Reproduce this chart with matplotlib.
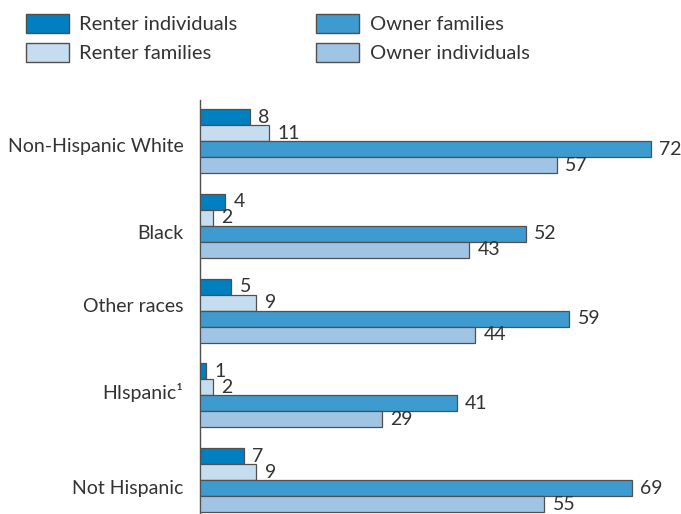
import matplotlib
matplotlib.use("Agg")
import matplotlib.pyplot as plt
from matplotlib.patches import Patch

plt.rcParams['font.family'] = ['Lato', 'DejaVu Sans']

categories = ["Non-Hispanic White", "Black", "Other races", "HIspanic\u00b9", "Not Hispanic"]
series = ["Renter individuals", "Renter families", "Owner families", "Owner individuals"]
renter_individuals = [8, 4, 5, 1, 7]
renter_families = [11, 2, 9, 2, 9]
owner_families = [72, 52, 59, 41, 69]
owner_individuals = [57, 43, 44, 29, 55]
colors = ["#0080c0", "#c6dcef", "#3d9bd0", "#a0c4e4"]

values = [renter_individuals, renter_families, owner_families, owner_individuals]
fs = 14
txt = "#333333"
# category labels in the original are not exactly centred on their groups
label_shift = [0.22, 0.38, -0.34, -0.25, 0.44]

fig = plt.figure(figsize=(6.81, 5.14), dpi=100)
ax = fig.add_axes([200 / 681, 0, 481 / 681, 414 / 514])

group_step = 5.3
for k, (vals, col) in enumerate(zip(values, colors)):
    ys = [g * group_step + k + 0.5 for g in range(len(categories))]
    ax.barh(ys, vals, height=1.0, color=col, edgecolor="#505050", linewidth=0.9, zorder=3)
    for y, v in zip(ys, vals):
        ax.annotate(str(v), (v, y), xytext=(6, 0), textcoords="offset points",
                    ha="left", va="center", fontsize=fs, color=txt)

ax.set_xlim(0, 481 / 6.26)
ax.set_ylim(25.31, -0.5625)
ax.set_yticks([g * group_step + 2 + label_shift[g] for g in range(len(categories))])
ax.set_yticklabels(categories, fontsize=fs, color=txt)
ax.tick_params(axis="y", length=0, pad=12)
ax.set_xticks([])
for s in ["top", "right", "bottom"]:
    ax.spines[s].set_visible(False)
ax.spines["left"].set_color("#505050")
ax.spines["left"].set_linewidth(1.0)

handles = [Patch(facecolor=c, edgecolor="#505050", label=s) for s, c in zip(series, colors)]
leg = fig.legend(handles=handles, loc="upper left", bbox_to_anchor=(26 / 681, 1 - 14 / 514),
                 ncol=2, frameon=False, fontsize=14.5, handlelength=2.15, handleheight=1.05,
                 handletextpad=0.5, columnspacing=3.9, labelspacing=0.5, borderaxespad=0,
                 borderpad=0)
for t in leg.get_texts():
    t.set_color(txt)

fig.savefig("out.png", dpi=100)
